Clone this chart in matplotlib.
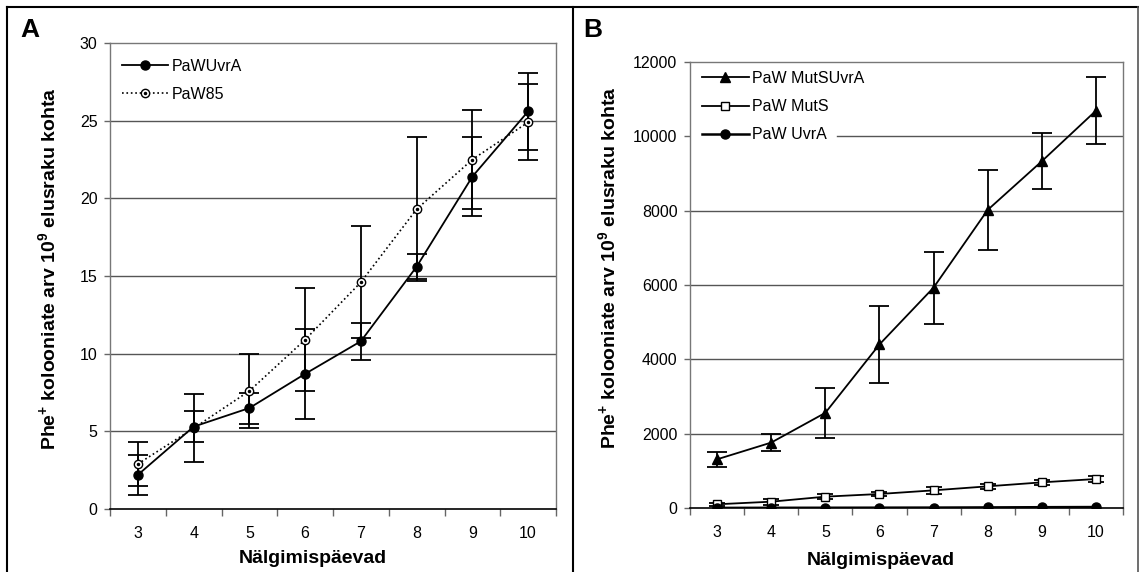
import matplotlib
matplotlib.use("Agg")
import matplotlib.pyplot as plt
from matplotlib.lines import Line2D
from matplotlib.legend_handler import HandlerTuple

plt.rcParams['font.family'] = ['Liberation Sans', 'DejaVu Sans']
plt.rcParams['mathtext.fontset'] = 'custom'
plt.rcParams['mathtext.rm'] = 'Liberation Sans'
plt.rcParams['mathtext.bf'] = 'Liberation Sans:bold'

# andmed
paevad = [3, 4, 5, 6, 7, 8, 9, 10]

uvra = [2.2, 5.3, 6.5, 8.7, 10.8, 15.6, 21.4, 25.6]
uvra_err = [1.3, 1.0, 1.0, 2.9, 1.2, 0.8, 2.55, 2.5]
paw85 = [2.9, 5.2, 7.6, 10.9, 14.6, 19.3, 22.5, 24.9]
paw85_err = [1.4, 2.2, 2.4, 3.3, 3.6, 4.65, 3.2, 2.45]

mutsuvra = [1310, 1760, 2560, 4400, 5930, 8020, 9330, 10690]
mutsuvra_err = [200, 220, 680, 1030, 970, 1070, 760, 900]
muts = [100, 170, 305, 377, 475, 583, 690, 780]
muts_err = [40, 80, 60, 50, 100, 60, 70, 90]

W, H = 1139, 572
fig = plt.figure(figsize=(W / 100, H / 100), dpi=100)
fig.patch.set_facecolor('white')

axA = fig.add_axes([110 / W, 1 - 509 / H, 446 / W, 466 / H])
axB = fig.add_axes([690 / W, 1 - 508 / H, 433 / W, 446 / H])

xpos = list(range(len(paevad)))


def style_axis(ax, ymax, ystep, legend_cut=None):
    ax.set_xlim(-0.5, len(paevad) - 0.5)
    ax.set_ylim(0, ymax)
    ax.set_yticks(range(0, ymax + 1, ystep))
    ax.set_xticks(xpos)
    ax.set_xticklabels([str(p) for p in paevad])
    ax.set_xticks([i - 0.5 for i in range(len(paevad) + 1)], minor=True)
    ax.tick_params(axis='x', which='major', length=0, pad=12, labelsize=11.5)
    ax.tick_params(axis='x', which='minor', length=5, width=1, color='#666666')
    ax.tick_params(axis='y', length=4, width=1, pad=5, labelsize=11.5, color='#666666')
    for y in range(ystep, ymax, ystep):
        xmin = 0
        # legendi valge taust katab selle joone algust
        if legend_cut is not None and y == legend_cut[0]:
            xmin = legend_cut[1]
        ax.axhline(y, xmin=xmin, color='#555555', lw=1, zorder=0)
    ax.spines['bottom'].set_color('black')
    ax.spines['bottom'].set_linewidth(1.2)
    for s in ['left', 'top', 'right']:
        ax.spines[s].set_color('#777777')
        ax.spines[s].set_linewidth(1)
    ax.set_xlabel('Nälgimispäevad', fontsize=14, fontweight='bold')
    ax.set_ylabel(r'Phe$^{\mathbf{+}}$ kolooniate arv 10$^{\mathbf{9}}$ elusraku kohta',
                  fontsize=14, fontweight='bold')


# Paneel A
style_axis(axA, 30, 5)
axA.errorbar(xpos, paw85, yerr=paw85_err, fmt='none', ecolor='black', elinewidth=1.3,
             capsize=7, capthick=1.3, zorder=3)
axA.errorbar(xpos, uvra, yerr=uvra_err, fmt='none', ecolor='black', elinewidth=1.3,
             capsize=7, capthick=1.3, zorder=3)
l85, = axA.plot(xpos, paw85, color='black', ls=':', lw=1.2, marker='o', ms=6,
                mfc='white', mec='black', mew=1, zorder=4)
d85, = axA.plot(xpos, paw85, ls='none', marker='o', ms=1.5, color='black', zorder=5)
lu, = axA.plot(xpos, uvra, color='black', ls='-', lw=1.3, marker='o', ms=6.5,
               mfc='black', mec='black', zorder=6)
legA = axA.legend([lu, (l85, d85)], ['PaWUvrA', 'PaW85'],
                  handler_map={tuple: HandlerTuple(ndivide=1, pad=0)},
                  loc='upper left', bbox_to_anchor=(-0.005, 0.997), fontsize=11.5,
                  frameon=False, handlelength=2.9, handletextpad=0.2, labelspacing=0.8)
axA.yaxis.set_label_coords(-0.112, 0.515)
axA.xaxis.set_label_coords(0.455, -0.088)

# Paneel B
style_axis(axB, 12000, 2000, legend_cut=(10000, 0.34))
axB.errorbar(xpos, mutsuvra, yerr=mutsuvra_err, fmt='none', ecolor='black', elinewidth=1.3,
             capsize=7, capthick=1.3, zorder=3)
axB.errorbar(xpos, muts, yerr=muts_err, fmt='none', ecolor='black', elinewidth=1.3,
             capsize=6, capthick=1.3, zorder=3)
lt, = axB.plot(xpos, mutsuvra, color='black', lw=1.3, marker='^', ms=7.5,
               mfc='black', mec='black', zorder=5)
ls_, = axB.plot(xpos, muts, color='black', lw=1.3, marker='s', ms=6,
                mfc='white', mec='black', mew=1, zorder=5)
lb, = axB.plot(xpos, uvra, color='black', lw=1.8, marker='o', ms=6.5,
               mfc='black', mec='black', zorder=6)
legB = axB.legend([lt, ls_, lb], ['PaW MutSUvrA', 'PaW MutS', 'PaW UvrA'],
                  loc='upper left', bbox_to_anchor=(-0.005, 1.012), fontsize=11.5,
                  frameon=False, handlelength=2.9, handletextpad=0.2, labelspacing=0.82)
axB.yaxis.set_label_coords(-0.162, 0.538)
axB.xaxis.set_label_coords(0.441, -0.098)

# paneelide tähed
fig.text(20 / W, 1 - 37 / H, 'A', fontsize=19, fontweight='bold', va='baseline')
fig.text(583 / W, 1 - 37 / H, 'B', fontsize=19, fontweight='bold', va='baseline')

# raamid
fig.add_artist(Line2D([7 / W, 1138 / W], [1 - 7 / H, 1 - 7 / H], color='black', lw=1.5))
fig.add_artist(Line2D([7 / W, 7 / W], [0, 1 - 7 / H], color='black', lw=1.5))
fig.add_artist(Line2D([573 / W, 573 / W], [0, 1 - 7 / H], color='black', lw=1.5))
fig.add_artist(Line2D([1137.5 / W, 1137.5 / W], [0, 1 - 7 / H], color='#555555', lw=1.2))

fig.savefig('out.png', dpi=100)
